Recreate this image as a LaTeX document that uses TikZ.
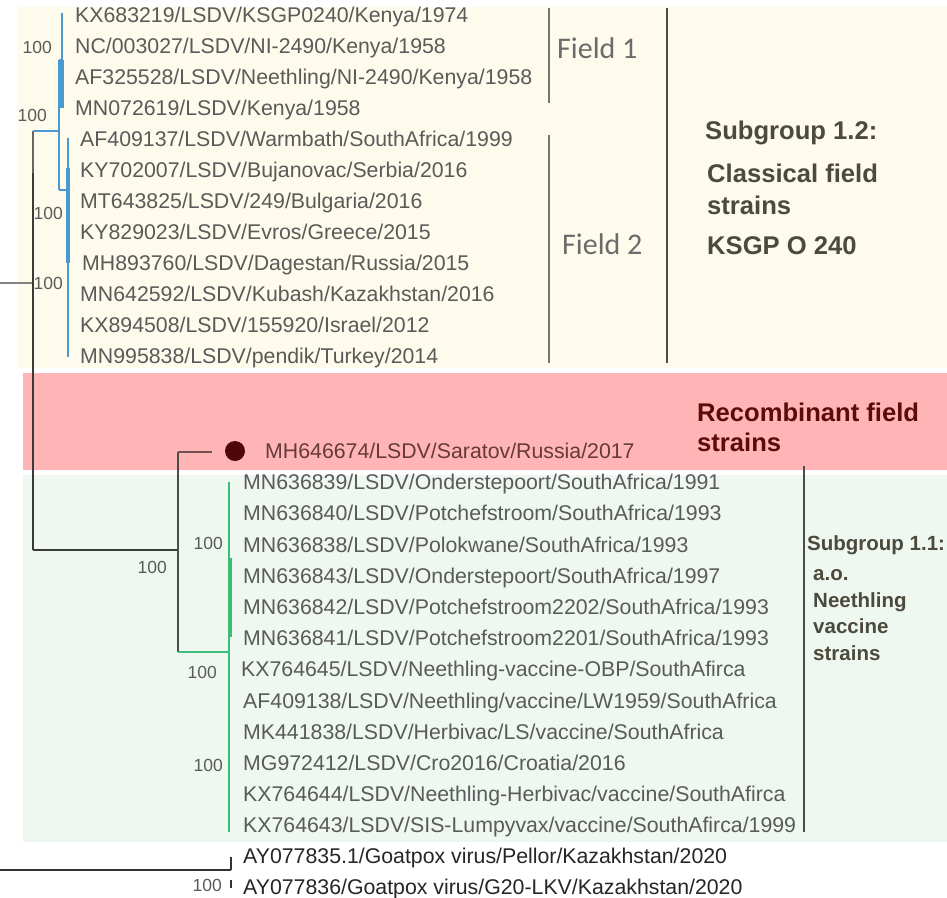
\documentclass[tikz,border=0pt]{standalone}
\usepackage{fontspec}
\setmainfont{Liberation Sans}
\newfontfamily\fieldfnt{Carlito}
\definecolor{cream}{HTML}{FEFAEC}
\definecolor{pinkbg}{HTML}{FFB5B5}
\definecolor{greenbg}{HTML}{EFF7F1}
\definecolor{treeblue}{HTML}{4A9ACF}
\definecolor{treegreen}{HTML}{3DBE78}
\definecolor{labgray}{HTML}{5A5A5A}
\definecolor{boldlab}{HTML}{4B4A3C}
\definecolor{recred}{HTML}{5C0A0A}
\definecolor{treedark}{HTML}{3A3A3A}
\begin{document}
\begin{tikzpicture}[x=1pt,y=-1pt,
  taxon/.style={anchor=base west, inner sep=0pt, font=\fontsize{21.3}{24}\selectfont, text=labgray},
  goat/.style={taxon, text=black!85},
  boot/.style={anchor=base east, inner sep=0pt, font=\fontsize{17.5}{20}\selectfont, text=labgray},
  fieldlab/.style={anchor=base west, inner sep=0pt, font=\fieldfnt\fontsize{30}{34}\selectfont, text=black!58},
  biglab/.style={anchor=base west, inner sep=0pt, font=\bfseries\fontsize{25.6}{28}\selectfont, text=boldlab},
  smalllab/.style={anchor=base west, inner sep=0pt, font=\bfseries\fontsize{20.5}{24}\selectfont, text=boldlab},
  bluebr/.style={draw=treeblue, line width=1.6pt},
  bluethick/.style={draw=treeblue, line width=3.2pt},
  greenbr/.style={draw=treegreen, line width=1.8pt},
  greenthick/.style={draw=treegreen, line width=3.4pt},
  darkbr/.style={draw=treedark, line width=1.5pt},
  bracket/.style={draw=black!70, line width=1.6pt}]
\useasboundingbox (0,0) rectangle (947,897);
% backgrounds
\fill[white] (0,0) rectangle (947,897);
\fill[cream] (17,7) rectangle (947,368);
\fill[pinkbg] (23,373) rectangle (947,470);
\fill[greenbg] (23,475) rectangle (947,842);

% ---------- top clade taxa ----------
\node[taxon] (t1) at (75,22.7) {KX683219/LSDV/KSGP0240/Kenya/1974};
\node[taxon] (t2) at (75,53.7) {NC/003027/LSDV/NI-2490/Kenya/1958};
\node[taxon] (t3) at (75,84.7) {AF325528/LSDV/Neethling/NI-2490/Kenya/1958};
\node[taxon] (t4) at (75,115.7) {MN072619/LSDV/Kenya/1958};
\node[taxon] (t5) at (80,146.7) {AF409137/LSDV/Warmbath/SouthAfrica/1999};
\node[taxon] (t6) at (80,177.7) {KY702007/LSDV/Bujanovac/Serbia/2016};
\node[taxon] (t7) at (80,208.7) {MT643825/LSDV/249/Bulgaria/2016};
\node[taxon] (t8) at (80,239.7) {KY829023/LSDV/Evros/Greece/2015};
\node[taxon] (t9) at (82,270.7) {MH893760/LSDV/Dagestan/Russia/2015};
\node[taxon] (t10) at (80,301.7) {MN642592/LSDV/Kubash/Kazakhstan/2016};
\node[taxon] (t11) at (80,332.7) {KX894508/LSDV/155920/Israel/2012};
\node[taxon] (t12) at (80,363.7) {MN995838/LSDV/pendik/Turkey/2014};

% ---------- recombinant ----------
\node[circle, fill=recred!85!black, minimum size=20pt, inner sep=0pt] (dot) at (235,451) {};
\node[taxon, text=recred!70!black!80] (rec) at (265,458.7) {MH646674/LSDV/Saratov/Russia/2017};

% ---------- vaccine clade taxa ----------
\node[taxon] (v1) at (243,489.7) {MN636839/LSDV/Onderstepoort/SouthAfrica/1991};
\node[taxon] (v2) at (243,520.9) {MN636840/LSDV/Potchefstroom/SouthAfrica/1993};
\node[taxon] (v3) at (243,552.1) {MN636838/LSDV/Polokwane/SouthAfrica/1993};
\node[taxon] (v4) at (243,583.3) {MN636843/LSDV/Onderstepoort/SouthAfrica/1997};
\node[taxon] (v5) at (243,614.5) {MN636842/LSDV/Potchefstroom2202/SouthAfrica/1993};
\node[taxon] (v6) at (243,645.7) {MN636841/LSDV/Potchefstroom2201/SouthAfrica/1993};
\node[taxon] (v7) at (241,676.9) {KX764645/LSDV/Neethling-vaccine-OBP/SouthAfirca};
\node[taxon] (v8) at (243,708.1) {AF409138/LSDV/Neethling/vaccine/LW1959/SouthAfrica};
\node[taxon] (v9) at (243,739.3) {MK441838/LSDV/Herbivac/LS/vaccine/SouthAfrica};
\node[taxon] (v10) at (243,770.5) {MG972412/LSDV/Cro2016/Croatia/2016};
\node[taxon] (v11) at (243,801.7) {KX764644/LSDV/Neethling-Herbivac/vaccine/SouthAfirca};
\node[taxon] (v12) at (243,832.9) {KX764643/LSDV/SIS-Lumpyvax/vaccine/SouthAfirca/1999};

% ---------- goatpox ----------
\node[goat] (g1) at (243,863.7) {AY077835.1/Goatpox virus/Pellor/Kazakhstan/2020};
\node[goat] (g2) at (243,894.2) {AY077836/Goatpox virus/G20-LKV/Kazakhstan/2020};

% ---------- bootstrap values ----------
\node[boot] (b1) at (52,53.3) {100};
\node[boot] (b2) at (47,121.3) {100};
\node[boot] (b3) at (63,219.3) {100};
\node[boot] (b4) at (63,289.3) {100};
\node[boot] (b5) at (223,549.3) {100};
\node[boot] (b6) at (167,573.3) {100};
\node[boot] (b7) at (217,678.3) {100};
\node[boot] (b8) at (223,771.3) {100};
\node[boot] (b9) at (222,891.3) {100};

% ---------- tree coordinates ----------
\coordinate (rootTop) at (33,131);
\coordinate (rootMid) at (33,173);
\coordinate (rootBot) at (33,550);
\coordinate (stubL) at (0,283);
\coordinate (stubR) at (33,283);
\coordinate (n12) at (59,131);
\coordinate (n12top) at (59,60);
\coordinate (n12bot) at (59,190);
\coordinate (f1top) at (62,13);
\coordinate (f1mid) at (62,60);
\coordinate (f1bot) at (62,108);
\coordinate (f2node) at (68,190);
\coordinate (f2top) at (68,138);
\coordinate (f2bot) at (68,357);
\coordinate (n11) at (178,550);
\coordinate (n11top) at (178,452);
\coordinate (n11bot) at (178,652);
\coordinate (vacnode) at (229,652);
\coordinate (vactop) at (229,482);
\coordinate (vacbot) at (229,832);
\coordinate (recend) at (212,452);
\coordinate (goatL) at (0,870);
\coordinate (goatR) at (231,870);
\coordinate (goatTop) at (231,857);
\coordinate (goatTickA) at (231,880);
\coordinate (goatTickB) at (231,888);

% root
\draw[draw=gray, line width=1.2pt] (stubL) -- (stubR);
\draw[draw=gray!80!black, line width=1.2pt] (rootTop) -- (rootMid);
\draw[darkbr] (rootMid) -- (rootBot);
% subgroup 1.2 (blue)
\draw[bluebr] (rootTop) -- (n12);
\draw[bluebr] (n12top) -- (n12bot);
\draw[bluebr] (n12top) -- (f1mid);
\draw[bluebr] (f1top) -- (f1bot);
\draw[bluethick] (f1mid) -- (f1bot);
\draw[bluebr] (n12bot) -- (f2node);
\draw[bluebr] (f2top) -- (f2bot);
\draw[bluethick] (68,168) -- (68,263);
% subgroup 1.1 + recombinant
\draw[darkbr] (rootBot) -- (n11);
\draw[darkbr, draw=black!70] (n11top) -- (n11bot);
\draw[darkbr, draw=recred!60!black!70] (n11top) -- (recend);
\draw[greenbr] (n11bot) -- (vacnode);
\draw[greenbr] (vactop) -- (vacbot);
\draw[greenthick] (230,558) -- (230,637);
\draw[greenbr, line width=2.4pt] (229,660) -- (229,745);
% goatpox
\draw[darkbr, draw=black!80] (goatL) -- (goatR);
\draw[darkbr, draw=black!80, line width=1.2pt] (goatTop) -- (goatR);
\draw[darkbr, draw=black!80, line width=1.2pt] (goatTickA) -- (goatTickB);

% ---------- brackets and group labels ----------
\coordinate (fb1a) at (549,8);
\coordinate (fb1b) at (549,103);
\coordinate (fb2a) at (549,135);
\coordinate (fb2b) at (549,363);
\coordinate (sg2a) at (667,8);
\coordinate (sg2b) at (667,363);
\coordinate (sg1a) at (804,466);
\coordinate (sg1b) at (804,832);
\draw[bracket, draw=black!55, line width=1.3pt] (fb1a) -- (fb1b);
\draw[bracket, draw=black!55, line width=1.3pt] (fb2a) -- (fb2b);
\draw[bracket] (sg2a) -- (sg2b);
\draw[bracket] (sg1a) -- (sg1b);

\node[fieldlab] (field1) at (557,58.7) {Field 1};
\node[fieldlab] (field2) at (562,254.7) {Field 2};

\node[biglab] (s12a) at (705,139) {Subgroup 1.2:};
\node[biglab] (s12b) at (707,182) {Classical field};
\node[biglab] (s12c) at (707,214) {strains};
\node[biglab] (s12d) at (707,254) {KSGP O 240};

\node[biglab, text=recred] (reca) at (697,421) {Recombinant field};
\node[biglab, text=recred] (recb) at (697,451) {strains};

\node[smalllab] (s11a) at (807,550.5) {Subgroup 1.1:};
\node[smalllab] (s11b) at (813,580.5) {a.o.};
\node[smalllab] (s11c) at (813,607.5) {Neethling};
\node[smalllab] (s11d) at (813,633.5) {vaccine};
\node[smalllab] (s11e) at (813,660.5) {strains};
\end{tikzpicture}
\end{document}
